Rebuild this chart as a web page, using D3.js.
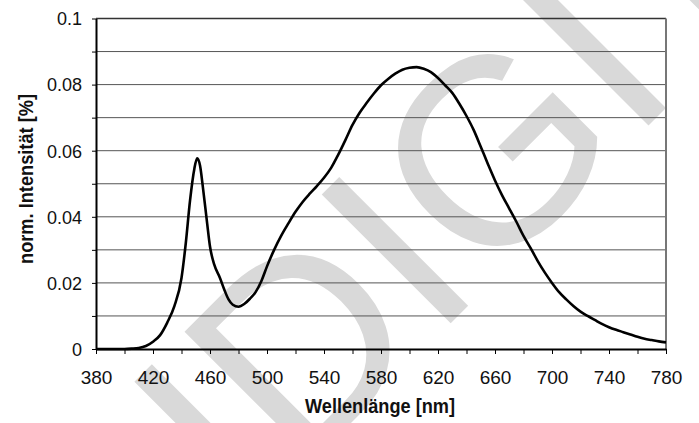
<!DOCTYPE html>
<html>
<head>
<meta charset="utf-8">
<script src="https://cdn.jsdelivr.net/npm/d3@7"></script>
<style>
  html, body { margin: 0; padding: 0; background: #fff; }
  svg { display: block; }
  text { font-family: "Liberation Sans", Arial, sans-serif; }
</style>
</head>
<body>
<svg id="chart" width="699" height="423"></svg>
<script>
// ---- data ----
const wavelength = [380,385,390,395,400,405,410,415,420,425,430,435,440,443,446,449,451,453,455,458,460,463,467,470,473,476,480,484,488,492,496,500,505,510,515,520,525,530,535,540,545,550,555,560,565,570,575,580,585,590,595,600,605,610,615,620,625,630,635,640,645,650,655,660,665,670,675,680,685,690,695,700,705,710,715,720,725,730,735,740,745,750,755,760,765,770,775,780];
const intensity  = [0,0,0,0,0,0.0001,0.0003,0.0009,0.0022,0.0042,0.0080,0.0130,0.0215,0.0320,0.0450,0.0545,0.0577,0.0555,0.0490,0.0380,0.0310,0.0255,0.0215,0.0180,0.0150,0.0134,0.0128,0.0136,0.0152,0.0172,0.0205,0.0250,0.0300,0.0343,0.0380,0.0415,0.0445,0.0470,0.0493,0.0518,0.0548,0.0588,0.0632,0.0678,0.0715,0.0745,0.0773,0.0798,0.0817,0.0833,0.0845,0.0851,0.0853,0.0848,0.0838,0.0820,0.0798,0.0775,0.0742,0.0705,0.0663,0.0612,0.0560,0.0510,0.0465,0.0425,0.0385,0.0342,0.0305,0.0266,0.0231,0.0200,0.0172,0.0150,0.0130,0.0113,0.0100,0.0088,0.0076,0.0066,0.0058,0.0051,0.0044,0.0037,0.0031,0.0027,0.0023,0.0020];
const xTicks = [380,400,420,440,460,480,500,520,540,560,580,600,620,640,660,680,700,720,740,760,780];
const xTickLabels = ["380","","420","","460","","500","","540","","580","","620","","660","","700","","740","","780"];
const yTicks = [0,0.01,0.02,0.03,0.04,0.05,0.06,0.07,0.08,0.09,0.1];
const yTickLabels = ["0","","0.02","","0.04","","0.06","","0.08","","0.1"];
const xTitle = "Wellenlänge [nm]";
const yTitle = "norm. Intensität [%]";
const watermarkText = "IDIGIT";

// ---- layout ----
const svg = d3.select("#chart");
const L = 96, R = 666, T = 18.5, B = 349;
const x = d3.scaleLinear().domain([380, 780]).range([L, R]);
const y = d3.scaleLinear().domain([0, 0.1]).range([B, T]);

// watermark (behind everything)
svg.append("text")
  .attr("transform", "translate(246,528) rotate(-45)")
  .attr("font-size", 265)
  .attr("font-weight", "normal")
  .attr("fill", "#d9d9d9")
  .text(watermarkText);

// grid lines
svg.append("g").selectAll("line").data(yTicks.filter(v => v > 0))
  .join("line")
  .attr("x1", L).attr("x2", R)
  .attr("y1", d => y(d)).attr("y2", d => y(d))
  .attr("stroke", d => d === 0.1 ? "#333" : "#555")
  .attr("stroke-width", d => d === 0.1 ? 1.5 : 1);

// right border
svg.append("line").attr("x1", R).attr("x2", R).attr("y1", T).attr("y2", B)
  .attr("stroke", "#777").attr("stroke-width", 2);

// x axis
const xAxis = d3.axisBottom(x).tickValues(xTicks)
  .tickFormat((d, i) => xTickLabels[i]).tickSize(5).tickSizeOuter(0);
const gx = svg.append("g").attr("transform", `translate(0,${B})`).call(xAxis);
gx.select(".domain").attr("stroke", "#000").attr("stroke-width", 2);
gx.selectAll(".tick line").attr("stroke", "#000").attr("stroke-width", 1);
gx.selectAll(".tick text").attr("y", 35).attr("dy", 0)
  .attr("font-size", 19).attr("fill", "#111")
  .attr("font-family", "Liberation Sans, Arial, sans-serif");

// y axis
const yAxis = d3.axisLeft(y).tickValues(yTicks)
  .tickFormat((d, i) => yTickLabels[i]).tickSize(4).tickSizeOuter(0);
const gy = svg.append("g").attr("transform", `translate(${L},0)`).call(yAxis);
gy.select(".domain").attr("stroke", "#000").attr("stroke-width", 2);
gy.selectAll(".tick line").attr("stroke", "#000").attr("stroke-width", 1);
gy.selectAll(".tick text").attr("x", -14).attr("dy", "0.35em")
  .attr("font-size", 18).attr("fill", "#111")
  .attr("font-family", "Liberation Sans, Arial, sans-serif");

// curve
const pts = wavelength.map((w, i) => [w, intensity[i]]);
const line = d3.line().x(d => x(d[0])).y(d => y(d[1])).curve(d3.curveMonotoneX);
svg.append("path").datum(pts)
  .attr("d", line)
  .attr("fill", "none")
  .attr("stroke", "#000")
  .attr("stroke-width", 2.6)
  .attr("stroke-linejoin", "round");

// titles
svg.append("text")
  .attr("x", 380).attr("y", 413)
  .attr("text-anchor", "middle")
  .attr("font-size", 20).attr("font-weight", "bold").attr("fill", "#111")
  .attr("textLength", 150).attr("lengthAdjust", "spacingAndGlyphs")
  .text(xTitle);

svg.append("text")
  .attr("transform", "translate(33,179) rotate(-90)")
  .attr("text-anchor", "middle")
  .attr("font-size", 20).attr("font-weight", "bold").attr("fill", "#111")
  .attr("textLength", 170).attr("lengthAdjust", "spacingAndGlyphs")
  .text(yTitle);
</script>
</body>
</html>
